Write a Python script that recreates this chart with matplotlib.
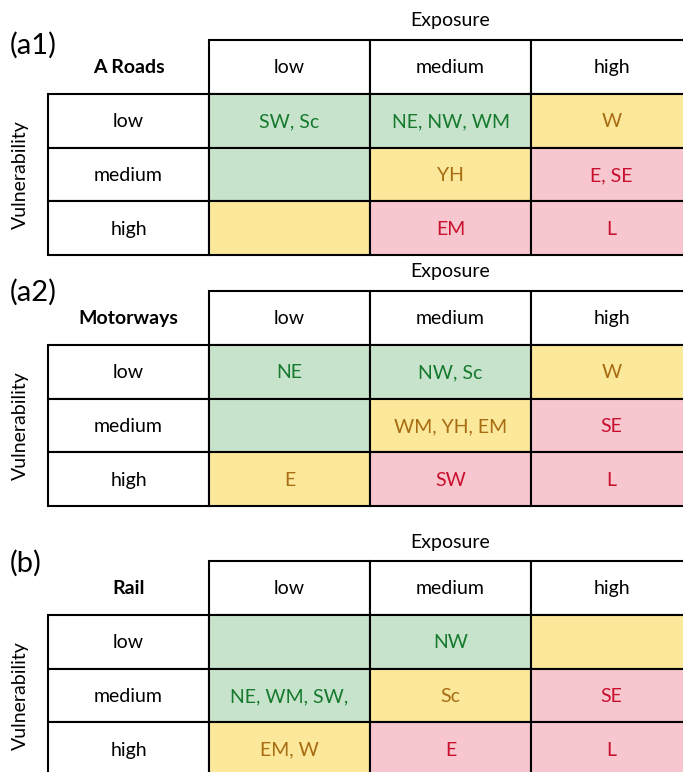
import matplotlib.pyplot as plt
from matplotlib.patches import Rectangle

plt.rcParams['font.family'] = ['Lato', 'DejaVu Sans']

levels = ["low", "medium", "high"]
panel_tags = ["(a1)", "(a2)", "(b)"]
panel_names = ["A Roads", "Motorways", "Rail"]

# risk class per cell (row = vulnerability, col = exposure): 0 green, 1 amber, 2 red
risk = [[0, 0, 1],
        [0, 1, 2],
        [1, 2, 2]]

roads_cells = [["SW, Sc", "NE, NW, WM", "W"],
               ["", "YH", "E, SE"],
               ["", "EM", "L"]]
motorway_cells = [["NE", "NW, Sc", "W"],
                  ["", "WM, YH, EM", "SE"],
                  ["E", "SW", "L"]]
rail_cells = [["", "NW", ""],
              ["NE, WM, SW,", "Sc", "SE"],
              ["EM, W", "E", "L"]]
panel_cells = [roads_cells, motorway_cells, rail_cells]

fills = ["#c8e3cb", "#fbe89b", "#f8c6ce"]
text_cols = ["#167a2e", "#a86c12", "#c8102e"]

W, H = 683, 772
fig = plt.figure(figsize=(W / 100, H / 100), dpi=100)

col_w = 161
row_h = 53.75
left_px = 48
tops_px = [40, 291, 561]
tag_dy = [0.09, 0.02, 0.05]
expo_dy = [-0.37, -0.36, -0.34]

lw = 1.5
fs = 14

for p in range(3):
    top = tops_px[p]
    ax = fig.add_axes([left_px / W, 1 - (top + 4 * row_h) / H,
                       4 * col_w / W, 4 * row_h / H])
    ax.set_xlim(0, 4)
    ax.set_ylim(4, 0)
    ax.axis("off")

    # header row (exposure levels)
    for j, lab in enumerate(levels):
        ax.add_patch(Rectangle((j + 1, 0), 1, 1, facecolor="white",
                               edgecolor="black", lw=lw, clip_on=False))
        ax.text(j + 1.5, 0.52, lab, ha="center", va="center", fontsize=fs)
    ax.text(0.5, 0.52, panel_names[p], ha="center", va="center",
            fontsize=fs, fontweight="bold")

    # body
    for i, lab in enumerate(levels):
        ax.add_patch(Rectangle((0, i + 1), 1, 1, facecolor="white",
                               edgecolor="black", lw=lw, clip_on=False))
        ax.text(0.5, i + 1.52, lab, ha="center", va="center", fontsize=fs)
        for j in range(3):
            r = risk[i][j]
            ax.add_patch(Rectangle((j + 1, i + 1), 1, 1, facecolor=fills[r],
                                   edgecolor="black", lw=lw, clip_on=False))
            ax.text(j + 1.5, i + 1.52, panel_cells[p][i][j], ha="center",
                    va="center", fontsize=fs, color=text_cols[r])

    ax.text(2.5, expo_dy[p], "Exposure", ha="center", va="center", fontsize=fs)
    ax.text(-0.174, 2.5, "Vulnerability", ha="center", va="center",
            rotation=90, fontsize=fs)
    ax.text(-0.24, tag_dy[p], panel_tags[p], ha="left", va="center",
            fontsize=21)

fig.savefig("out.png", dpi=100)
